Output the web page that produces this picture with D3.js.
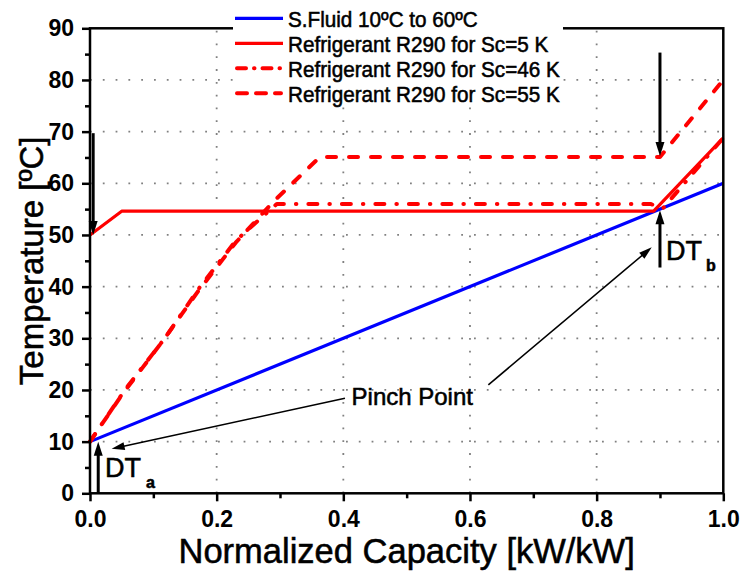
<!DOCTYPE html>
<html>
<head>
<meta charset="utf-8">
<script src="https://cdn.jsdelivr.net/npm/d3@7/dist/d3.min.js"></script>
<style>
body { margin: 0; background: #fff; }
text { font-family: Arial, "Liberation Sans", sans-serif; fill: #000; }
.heavy { stroke: #000; stroke-width: 0.55px; }
</style>
</head>
<body>
<div id="chart"></div>
<script>
// values
var capFluid = [0, 1]
var tempFluid = [10, 60]

var capSc5 = [0, 0.05, 0.89, 1]
var tempSc5 = [50, 54.6, 54.6, 68.8]

var capSc46 = [0, 0.055, 0.118, 0.174, 0.231, 0.295, 0.885, 0.905, 1]
var tempSc46 = [10, 20, 30, 40, 49, 56, 56, 55.2, 68.8]

var capSc55 = [0, 0.05, 0.115, 0.17, 0.23, 0.29, 0.363, 0.9, 1]
var tempSc55 = [10, 19, 29.5, 39, 48.5, 56.5, 65.1, 65.1, 80]

var seriesNames = ["S.Fluid 10ºC to 60ºC", "Refrigerant R290 for Sc=5 K", "Refrigerant R290 for Sc=46 K", "Refrigerant R290 for Sc=55 K"]

var xTicks = [0, 0.2, 0.4, 0.6, 0.8, 1.0]
var xMinor = [0.1, 0.3, 0.5, 0.7, 0.9]
var yTicks = [0, 10, 20, 30, 40, 50, 60, 70, 80, 90]
var yMinor = [5, 15, 25, 35, 45, 55, 65, 75, 85]

// annotation arrows [x1, y1, x2, y2] in data units, head at second point
var bigArrows = [[0.005, 69.7, 0.005, 50], [0.013, 0, 0.013, 10], [0.9, 85.3, 0.9, 65.3], [0.9, 43.7, 0.9, 54.8]]
var thinArrows = [[0.4026, 18.4, 0.0342, 8.6], [0.629, 21, 0.887, 47.6]]

var W = 741, H = 573

var svg = d3.select("#chart").append("svg")
    .attr("width", W)
    .attr("height", H)

svg.append("rect").attr("width", W).attr("height", H).attr("fill", "white")

var x = d3.scaleLinear().domain([0, 1]).range([90, 723.3])
var y = d3.scaleLinear().domain([0, 90]).range([493.3, 28.3])

// dotted grid
svg.append("g").selectAll("line").data(xTicks.slice(1, -1))
    .enter().append("line")
    .attr("x1", d => x(d)).attr("x2", d => x(d))
    .attr("y1", y(0)).attr("y2", y(90))
    .attr("stroke", "#808080")
    .attr("stroke-width", 1.8)
    .attr("stroke-dasharray", "1.8,11")

svg.append("g").selectAll("line").data(yTicks.slice(1, -1))
    .enter().append("line")
    .attr("x1", x(0)).attr("x2", x(1))
    .attr("y1", d => y(d)).attr("y2", d => y(d))
    .attr("stroke", "#808080")
    .attr("stroke-width", 1.8)
    .attr("stroke-dasharray", "1.8,11")

function pts(cs, ts) { return cs.map(function(c, i) { return [c, ts[i]] }) }

var line = d3.line().x(d => x(d[0])).y(d => y(d[1]))

var series = [
    {p: pts(capFluid, tempFluid), color: "#0000ff", w: 3.2, dash: null},
    {p: pts(capSc5, tempSc5), color: "#ff0000", w: 3.2, dash: null},
    {p: pts(capSc46, tempSc46), color: "#ff0000", w: 4, dash: "9,12,0.5,12"},
    {p: pts(capSc55, tempSc55), color: "#ff0000", w: 4, dash: "9,13"}
]

svg.append("g").selectAll("path").data(series)
    .enter().append("path")
    .attr("d", d => line(d.p))
    .attr("fill", "none")
    .attr("stroke", d => d.color)
    .attr("stroke-width", d => d.w)
    .attr("stroke-linecap", d => d.dash ? "round" : "butt")
    .attr("stroke-linejoin", "round")
    .attr("stroke-dasharray", d => d.dash)

// axes
svg.append("g")
    .attr("transform", "translate(" + x(0) + ",0)")
    .call(d3.axisLeft(y).tickValues(yTicks).tickSize(8).tickPadding(8).tickFormat(d3.format("d")))
svg.append("g")
    .attr("transform", "translate(" + x(0) + ",0)")
    .call(d3.axisLeft(y).tickValues(yMinor).tickSize(5).tickFormat(""))

svg.append("g")
    .attr("transform", "translate(0," + y(0) + ")")
    .call(d3.axisBottom(x).tickValues(xTicks).tickSize(8).tickPadding(9).tickFormat(d3.format(".1f")))
svg.append("g")
    .attr("transform", "translate(0," + y(0) + ")")
    .call(d3.axisBottom(x).tickValues(xMinor).tickSize(5).tickFormat(""))

svg.selectAll(".domain").remove()
svg.selectAll(".tick line").attr("stroke", "#000").attr("stroke-width", 2.5)
svg.selectAll(".tick text")
    .attr("fill", "#000")
    .style("font-size", "23px")
    .style("font-weight", "bold")
    .style("font-family", "Arial, 'Liberation Sans', sans-serif")

svg.append("rect")
    .attr("x", x(0)).attr("y", y(90))
    .attr("width", x(1) - x(0)).attr("height", y(0) - y(90))
    .attr("fill", "none")
    .attr("stroke", "#000")
    .attr("stroke-width", 2.5)

// legend
var leg = svg.append("g")
leg.append("rect")
    .attr("x", 233).attr("y", 0)
    .attr("width", 330).attr("height", 106)
    .attr("fill", "white")

var legRows = leg.selectAll(".row").data(series)
    .enter().append("g")
    .attr("class", "row")
    .attr("transform", (d, i) => "translate(235," + (18.3 + 25 * i) + ")")

legRows.append("line")
    .attr("x1", d => d.dash ? 2 : 0).attr("x2", d => d.dash ? 46 : 48)
    .attr("stroke", d => d.color)
    .attr("stroke-width", d => d.w)
    .attr("stroke-linecap", d => d.dash ? "round" : "butt")
    .attr("stroke-dasharray", d => d.dash ? (d.dash == "9,13" ? "10,9" : "9,8,0.5,8") : null)

legRows.append("text")
    .attr("class", "heavy")
    .attr("transform", "translate(53,8.4) scale(0.94,1)")
    .style("font-size", "22px")
    .text((d, i) => seriesNames[i])

// arrows
function arrow(g, a, w, hl, hw) {
    var x1 = x(a[0]), y1 = y(a[1]), x2 = x(a[2]), y2 = y(a[3])
    var dx = x2 - x1, dy = y2 - y1, len = Math.sqrt(dx * dx + dy * dy)
    var ux = dx / len, uy = dy / len
    var bx = x2 - ux * hl, by = y2 - uy * hl
    g.append("line")
        .attr("x1", x1).attr("y1", y1)
        .attr("x2", bx + ux * 2).attr("y2", by + uy * 2)
        .attr("stroke", "#000").attr("stroke-width", w)
    g.append("path")
        .attr("d", "M" + x2 + "," + y2 + "L" + (bx - uy * hw) + "," + (by + ux * hw) + "L" + (bx + uy * hw) + "," + (by - ux * hw) + "Z")
        .attr("fill", "#000")
}

var ann = svg.append("g")
bigArrows.forEach(a => arrow(ann, a, 3, 14, 4.5))
thinArrows.forEach(a => arrow(ann, a, 1.6, 13, 4))

// labels
ann.append("text")
    .attr("class", "heavy")
    .attr("x", x(0.413)).attr("y", y(17.1))
    .style("font-size", "24px")
    .text("Pinch Point")

var dta = ann.append("text")
    .attr("class", "heavy")
    .attr("x", x(0.0237)).attr("y", y(3.2))
    .style("font-size", "27px")
dta.append("tspan").text("DT")
dta.append("tspan").attr("dx", 5).attr("dy", 11.6).style("font-size", "16px").style("font-weight", "bold").text("a")

var dtb = ann.append("text")
    .attr("class", "heavy")
    .attr("x", x(0.9096)).attr("y", y(45.1))
    .style("font-size", "27px")
dtb.append("tspan").text("DT")
dtb.append("tspan").attr("dx", 4).attr("dy", 10.7).style("font-size", "16px").style("font-weight", "bold").text("b")

// axis titles
svg.append("text")
    .attr("class", "heavy")
    .attr("x", (x(0) + x(1)) / 2).attr("y", 563)
    .attr("text-anchor", "middle")
    .style("font-size", "34.5px")
    .text("Normalized Capacity [kW/kW]")

svg.append("text")
    .attr("class", "heavy")
    .attr("transform", "translate(43," + ((y(0) + y(90)) / 2) + ") rotate(-90)")
    .attr("text-anchor", "middle")
    .style("font-size", "33px")
    .text("Temperature [ºC]")
</script>
</body>
</html>
